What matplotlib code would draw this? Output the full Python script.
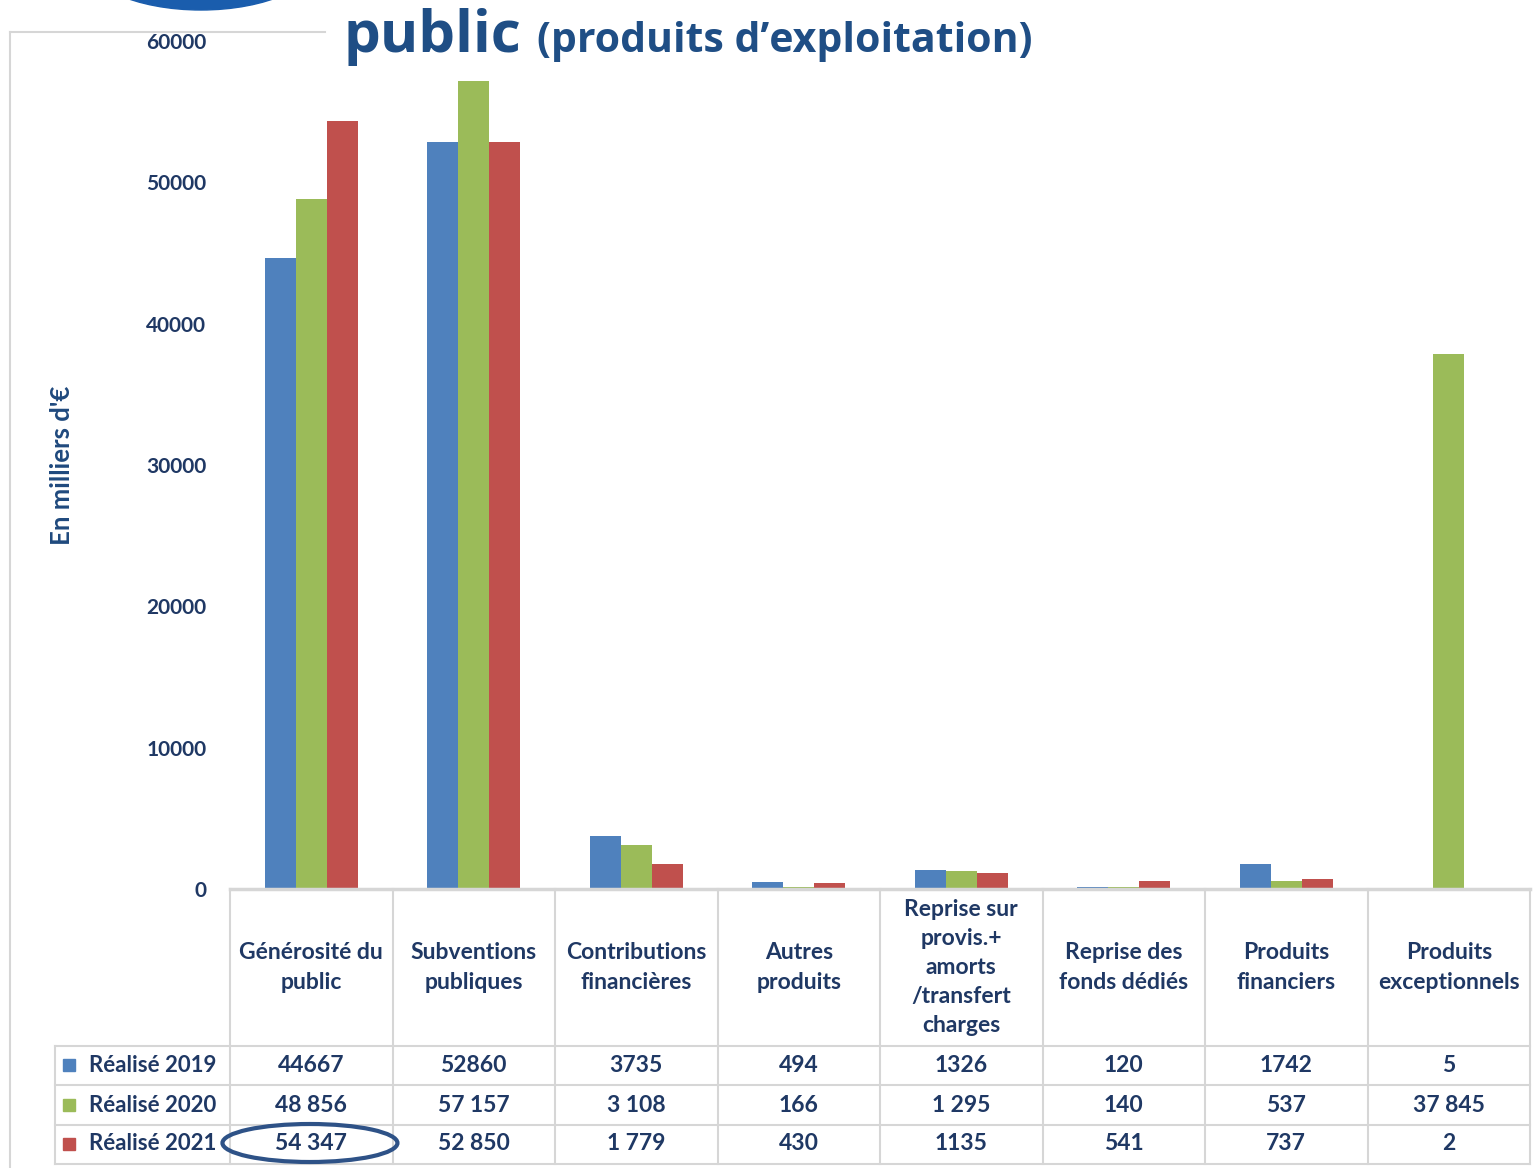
import matplotlib.pyplot as plt
from matplotlib.patches import Ellipse
import numpy as np

categories = ["Générosité du\npublic", "Subventions\npubliques", "Contributions\nfinancières",
              "Autres\nproduits", "Reprise sur\nprovis.+\namorts\n/transfert\ncharges",
              "Reprise des\nfonds dédiés", "Produits\nfinanciers", "Produits\nexceptionnels"]
series = ["Réalisé 2019", "Réalisé 2020", "Réalisé 2021"]
v2019 = [44667, 52860, 3735, 494, 1326, 120, 1742, 5]
v2020 = [48856, 57157, 3108, 166, 1295, 140, 537, 37845]
v2021 = [54347, 52850, 1779, 430, 1135, 541, 737, 2]
lab2019 = ["44667", "52860", "3735", "494", "1326", "120", "1742", "5"]
lab2020 = ["48 856", "57 157", "3 108", "166", "1 295", "140", "537", "37 845"]
lab2021 = ["54 347", "52 850", "1 779", "430", "1135", "541", "737", "2"]
colors = ["#4F81BD", "#9BBB59", "#C0504D"]
yticks = [0, 10000, 20000, 30000, 40000, 50000, 60000]

W, H = 1537, 1168
navy = "#1F3864"
grid = "#D6D6D6"
tfont = ["Lato", "DejaVu Sans"]
tsize = 16.5

fig = plt.figure(figsize=(W / 100, H / 100), dpi=100)
ax = fig.add_axes([230 / W, 1 - 889 / H, 1300 / W, 848 / H])

x = np.arange(len(categories))
bw = 0.19
for k, vals in enumerate([v2019, v2020, v2021]):
    ax.bar(x + (k - 1) * bw, vals, width=bw, color=colors[k], zorder=2)

ax.set_xlim(-0.5, 7.5)
ax.set_ylim(0, 60000)
ax.set_yticks(yticks)
ax.set_yticklabels([str(t) for t in yticks], family=tfont,
                   fontweight="bold", fontsize=15, color=navy)
ax.tick_params(axis="y", length=0, pad=17)
ax.set_xticks([])
for s in ["left", "right", "top"]:
    ax.spines[s].set_visible(False)
ax.spines["bottom"].set_color(grid)
ax.spines["bottom"].set_linewidth(2.5)
ax.spines["bottom"].set_zorder(3)

# data table under the plot
tr = ax.get_xaxis_transform()
y_hdr = -(1046 - 889) / 848
row_y = [-(1085 - 889) / 848, -(1125 - 889) / 848, -(1164 - 889) / 848]
x_left = -0.5 - (230 - 55) / 162.5
lw = 1.5
for k in range(len(categories) + 1):
    ax.plot([k - 0.5, k - 0.5], [0, row_y[-1]], transform=tr, color=grid, lw=lw, clip_on=False)
ax.plot([x_left, x_left], [y_hdr, row_y[-1]], transform=tr, color=grid, lw=lw, clip_on=False)
for yy in [y_hdr] + row_y:
    ax.plot([x_left, 7.5], [yy, yy], transform=tr, color=grid, lw=lw, clip_on=False)

for i, c in enumerate(categories):
    ax.text(i, -(967.5 - 889) / 848, c, transform=tr, ha="center", va="center",
            family=tfont, fontweight="bold", fontsize=tsize, color=navy,
            linespacing=1.48, clip_on=False)

row_c = [-(1065 - 889) / 848, -(1105 - 889) / 848, -(1144 - 889) / 848]
for r, labs in enumerate([lab2019, lab2020, lab2021]):
    ax.plot([-0.5 - 161 / 162.5], [row_c[r]], transform=tr, marker="s", markersize=8,
            color=colors[r], clip_on=False)
    ax.text(-0.5 - 141 / 162.5, row_c[r], series[r], transform=tr, ha="left", va="center",
            family=tfont, fontweight="bold", fontsize=tsize - 0.5, color=navy, clip_on=False)
    for i, s in enumerate(labs):
        ax.text(i, row_c[r], s, transform=tr, ha="center", va="center",
                family=tfont, fontweight="bold", fontsize=tsize, color=navy, clip_on=False)

# highlight around 54 347
ax.add_patch(Ellipse((-0.008, -(1143 - 889) / 848), 175 / 162.5, 38 / 848, transform=tr,
                     fill=False, edgecolor="#2E5287", lw=3, clip_on=False, zorder=5))

fig.text(62 / W, 1 - 465 / H, "En milliers d'€", rotation=90, ha="center", va="center",
         family=tfont, fontweight="bold", fontsize=18.5, color="#1F497D")

# outer chart frame (left and top fragment)
fig.add_artist(plt.Line2D([10 / W, 10 / W], [0, 1 - 32 / H], color=grid, lw=1.5))
fig.add_artist(plt.Line2D([10 / W, 325 / W], [1 - 32 / H, 1 - 32 / H], color=grid, lw=1.5))

# logo fragment at the top
fig.add_artist(Ellipse((201 / W, 1 + 45 / H), 240 / W, 110 / H, transform=fig.transFigure,
                       color="#1A5DAD"))

# title (second line visible)
fig.text(343 / W, 1 - 52 / H, "public", ha="left", va="baseline",
         family=["Open Sans", "DejaVu Sans"], fontweight="bold", fontsize=42, color="#1F4E85")
fig.text(537 / W, 1 - 52 / H, "(produits d\u2019exploitation)", ha="left", va="baseline",
         family=["Open Sans", "DejaVu Sans"], fontweight="bold", fontsize=29.5, color="#1F4E85")

fig.savefig("out.png", dpi=100)
